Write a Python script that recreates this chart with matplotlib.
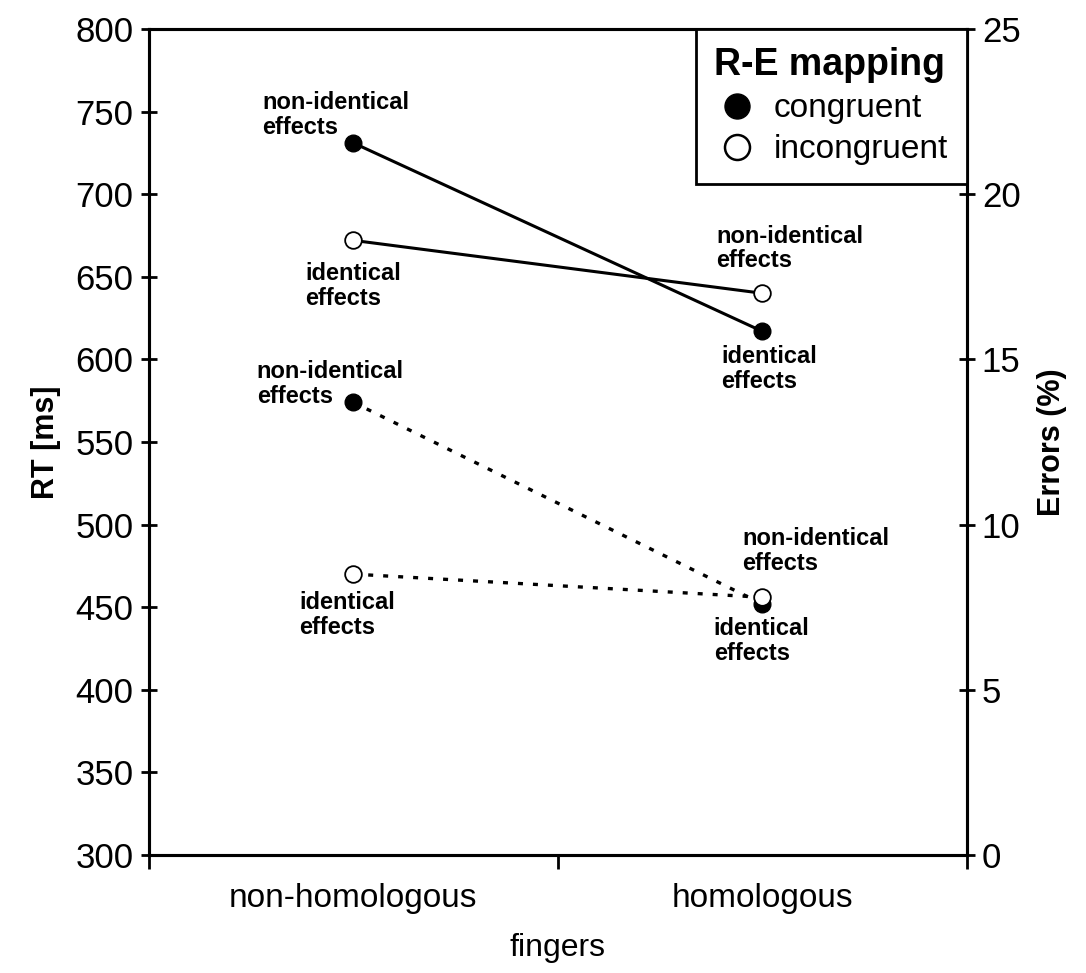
import matplotlib.pyplot as plt
from matplotlib.lines import Line2D

plt.rcParams['font.family'] = ['Liberation Sans', 'DejaVu Sans']

fingers = ["non-homologous", "homologous"]
rt_congruent = [731, 617]
rt_incongruent = [672, 640]
err_congruent = [13.7, 7.6]
err_incongruent = [8.5, 7.8]

xpos = [0.5, 1.5]

fig = plt.figure(figsize=(10.86, 9.73), dpi=100)
ax = fig.add_axes([0.137, 0.1213, 0.753, 0.849])
ax2 = ax.twinx()

# RT (left axis) - solid lines
ax.plot(xpos, rt_congruent, color="black", lw=2.2, marker="o", ms=12,
        mfc="black", mec="black", zorder=3)
ax.plot(xpos, rt_incongruent, color="black", lw=2.2, marker="o", ms=12,
        mfc="white", mec="black", mew=1.3, zorder=3)

# Errors (right axis) - dotted lines
ax2.plot(xpos, err_congruent, color="black", lw=2.4, ls=(0, (1.5, 3.0)),
         marker="o", ms=12, mfc="black", mec="black", zorder=3)
ax2.plot(xpos, err_incongruent, color="black", lw=2.4, ls=(0, (1.5, 3.0)),
         marker="o", ms=12, mfc="white", mec="black", mew=1.3, zorder=3)

ax.set_xlim(0, 2)
ax.set_ylim(300, 800)
ax2.set_ylim(0, 25)
ax.set_yticks(range(300, 801, 50))
ax2.set_yticks(range(0, 26, 5))

ax.set_xticks([0, 1, 2])
ax.set_xticklabels([])
ax.set_xticks(xpos, minor=True)
ax.set_xticklabels(fingers, minor=True)
ax.tick_params(axis="x", which="major", direction="out", length=10, width=2)
ax.tick_params(axis="x", which="minor", length=0, labelsize=24, pad=20)
ax.tick_params(axis="y", direction="inout", length=12, width=2, labelsize=25, pad=5)
ax2.tick_params(axis="y", direction="inout", length=12, width=2, labelsize=25, pad=5)

for a in (ax, ax2):
    for s in a.spines.values():
        s.set_linewidth(2.2)

ax.set_ylabel("RT [ms]", fontsize=22, fontweight="bold", labelpad=10)
ax2.set_ylabel("Errors (%)", fontsize=22, fontweight="bold", labelpad=12)
ax.set_xlabel("fingers", fontsize=23, labelpad=14)

# condition labels
lab_font = dict(fontsize=17, fontweight="bold", ha="left", va="top",
                linespacing=1.1, transform=ax.transAxes)
labels = [
    (0.139, 0.925, "non-identical\neffects"),
    (0.191, 0.718, "identical\neffects"),
    (0.694, 0.763, "non-identical\neffects"),
    (0.700, 0.617, "identical\neffects"),
    (0.132, 0.599, "non-identical\neffects"),
    (0.184, 0.319, "identical\neffects"),
    (0.726, 0.397, "non-identical\neffects"),
    (0.691, 0.288, "identical\neffects"),
]
for x, y, t in labels:
    ax.text(x, y, t, **lab_font)

handles = [
    Line2D([], [], ls="none", marker="o", ms=18, mfc="black", mec="black"),
    Line2D([], [], ls="none", marker="o", ms=18, mfc="white", mec="black", mew=1.8),
]
leg = ax2.legend(handles, ["congruent", "incongruent"], loc="upper right",
                 bbox_to_anchor=(1, 1), borderaxespad=0, fancybox=False,
                 edgecolor="black", fontsize=24, title="R-E mapping",
                 title_fontproperties={"size": 27, "weight": "bold"},
                 handletextpad=0.4, handlelength=1.4, borderpad=0.55,
                 labelspacing=0.3, framealpha=1, alignment="left")
leg.get_frame().set_linewidth(2)
leg.set_zorder(5)

fig.savefig("out.png", dpi=100)
